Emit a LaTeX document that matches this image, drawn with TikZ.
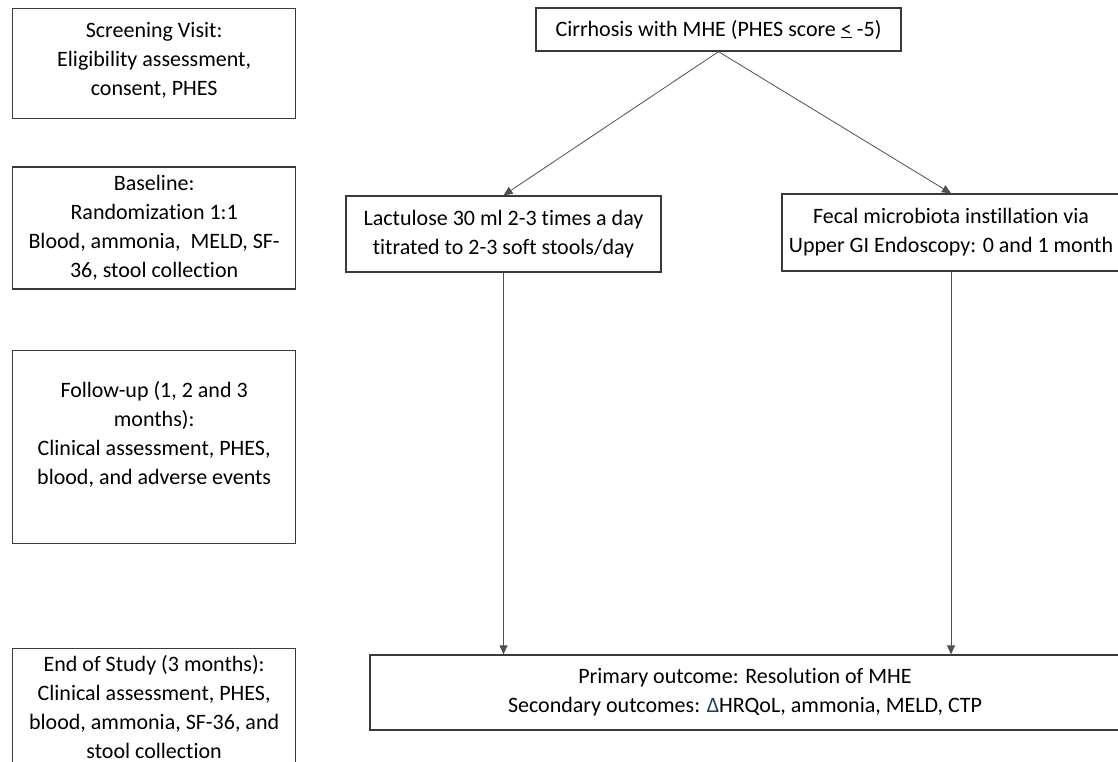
\documentclass[tikz,border=0pt]{standalone}
\usepackage{fontspec}
\setmainfont{Carlito}[Ligatures=NoCommon]
\usetikzlibrary{arrows.meta,positioning}
\definecolor{boxline}{HTML}{3A3A3A}
\definecolor{arrowline}{HTML}{505050}
\definecolor{deltablue}{HTML}{1F3F60}
\tikzset{
  phasebox/.style={draw=boxline, line width=1.3pt, align=flush center, inner sep=0pt,
    text width=283pt, font=\fontsize{22}{29}\selectfont},
  armbox/.style={phasebox, text width=315pt, minimum height=76pt},
  arr/.style={-{Triangle[length=9pt, width=8pt]}, line width=0.8pt, draw=arrowline}
}

\begin{document}
\begin{tikzpicture}[x=1pt, y=-1pt, node distance=47pt]
  \useasboundingbox (0,0) rectangle (1118,762);
  % study visits, left column
  \node[phasebox, minimum height=110pt, anchor=north west] (screen) at (12,8)
    {Screening Visit:\\Eligibility assessment,\\consent, PHES\\[-19pt]\mbox{}};
  \node[phasebox, minimum height=122pt, below=of screen] (baseline)
    {Baseline:\\Randomization 1:1\\Blood, ammonia,\ \ MELD, SF-\\36, stool collection};
  \node[phasebox, minimum height=193pt, below=60pt of baseline] (followup)
    {Follow-up (1, 2 and 3\\months):\\Clinical assessment, PHES,\\blood, and adverse events\\[-1pt]\mbox{}};
  \node[phasebox, minimum height=116pt, below=104pt of followup] (endstudy)
    {End of Study (3 months):\\Clinical assessment, PHES,\\blood, ammonia, SF-36, and\\stool collection};
  % trial arms
  \node[phasebox, text width=365pt, minimum height=43pt] (cohort) at (718.5,29.5)
    {Cirrhosis with MHE (PHES score \underline{<} -5)};
  \node[armbox] (lactulose) at (503.5,234)
    {Lactulose 30 ml 2-3 times a day\\titrated to 2-3 soft stools/day};
  \node[armbox, text width=338pt, minimum height=77pt] (fmt) at (951,232.5)
    {Fecal microbiota instillation via\\Upper GI Endoscopy: 0 and 1 month};
  \node[phasebox, text width=750pt, minimum height=75pt] (outcome) at (745,692.5)
    {Primary outcome: Resolution of MHE\\Secondary outcomes: {\color{deltablue}Δ}HRQoL, ammonia, MELD, CTP};
  \draw[arr] (cohort.south) -- (lactulose.north);
  \draw[arr] (cohort.south) -- (fmt.north);
  \draw[arr] (lactulose.south) -- (lactulose.south |- outcome.north);
  \draw[arr] (fmt.south) -- (fmt.south |- outcome.north);
\end{tikzpicture}
\end{document}
